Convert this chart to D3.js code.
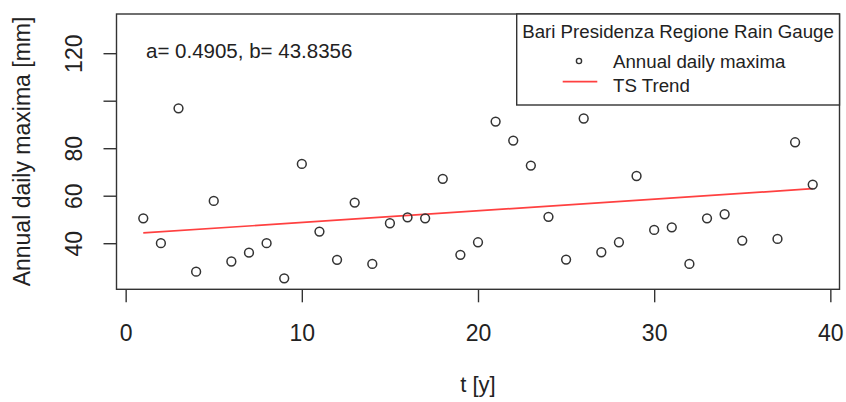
<!DOCTYPE html>
<html>
<head>
<meta charset="utf-8">
<script src="https://cdn.jsdelivr.net/npm/d3@7"></script>
<style>
  body { margin: 0; background: #fff; }
  svg { font-family: "Liberation Sans", Arial, sans-serif; }
</style>
</head>
<body>
<script>
var width = 846,
  height = 402;

// data
var years = [1,2,3,4,5,6,7,8,9,10,11,12,13,14,15,16,17,18,19,20,
  21,22,23,24,25,26,27,28,29,30,31,32,33,34,35,37,38,39];
var maxima = [50.5,40.0,96.8,28.0,57.8,32.3,36.0,40.0,25.2,73.4,44.9,33.0,57.1,31.3,48.4,50.9,50.5,67.1,35.1,40.4,
  91.2,83.2,72.7,51.1,33.1,92.5,36.2,40.4,68.3,45.6,46.7,31.3,50.5,52.2,41.1,41.8,82.5,64.7];
var trendA = 0.4905,
  trendB = 43.8356;
var trendT = [1, 39];
var xTicks = [0, 10, 20, 30, 40];
var yTicks = [40, 60, 80, 100, 120];
var yLabels = [40, 60, 80, 120];

var svg = d3.select("body").append("svg")
  .attr("width", width)
  .attr("height", height);

var x = d3.scaleLinear()
  .domain([-0.52, 40.52])
  .range([116.5, 839.5]);

var y = d3.scaleLinear()
  .domain([20.6, 136.5])
  .range([289.3, 14]);

var ink = "#222";
var red = "#ff4040";

// axes
var xAxis = svg.append("g")
  .attr("transform", "translate(0,289.3)")
  .call(d3.axisBottom(x).tickValues(xTicks).tickSize(13).tickSizeOuter(0));
xAxis.select(".domain").remove();
xAxis.selectAll("line").attr("stroke", "#333").attr("stroke-width", 1.4);
xAxis.selectAll("text")
  .attr("y", 51.5)
  .attr("dy", 0)
  .attr("font-size", 23)
  .attr("fill", ink);

var yAxis = svg.append("g")
  .attr("transform", "translate(116.5,0)")
  .call(d3.axisLeft(y).tickValues(yTicks).tickSize(13).tickSizeOuter(0)
    .tickFormat(function(d) { return yLabels.indexOf(d) >= 0 ? d : ""; }));
yAxis.select(".domain").remove();
yAxis.selectAll("line").attr("stroke", "#333").attr("stroke-width", 1.4);
yAxis.selectAll("text")
  .attr("x", 0)
  .attr("dy", 0)
  .attr("text-anchor", "middle")
  .attr("transform", "translate(-35,0) rotate(-90)")
  .attr("font-size", 23)
  .attr("fill", ink);

// plot box
svg.append("rect")
  .attr("x", 116.5)
  .attr("y", 14)
  .attr("width", 839.5 - 116.5)
  .attr("height", 289.3 - 14)
  .attr("fill", "none")
  .attr("stroke", "#333")
  .attr("stroke-width", 1.4);

// axis titles
svg.append("text")
  .attr("x", 478)
  .attr("y", 392)
  .attr("text-anchor", "middle")
  .attr("font-size", 22)
  .attr("fill", ink)
  .text("t [y]");

svg.append("text")
  .attr("text-anchor", "middle")
  .attr("transform", "translate(29.5,151.5) rotate(-90)")
  .attr("font-size", 23)
  .attr("fill", ink)
  .text("Annual daily maxima [mm]");

// trend line
svg.append("line")
  .attr("x1", x(trendT[0]))
  .attr("y1", y(trendB + trendA * trendT[0]))
  .attr("x2", x(trendT[1]))
  .attr("y2", y(trendB + trendA * trendT[1]))
  .attr("stroke", red)
  .attr("stroke-width", 1.7);

// points
svg.append("g")
  .selectAll("circle")
  .data(years)
  .enter()
    .append("circle")
    .attr("cx", function(d) { return x(d); })
    .attr("cy", function(d, i) { return y(maxima[i]); })
    .attr("r", 4.4)
    .attr("fill", "none")
    .attr("stroke", "#333")
    .attr("stroke-width", 1.5);

// annotation
svg.append("text")
  .attr("x", 146)
  .attr("y", 58.3)
  .attr("font-size", 20.5)
  .attr("fill", ink)
  .text("a= " + trendA.toFixed(4) + ", b= " + trendB.toFixed(4));

// legend
var legend = svg.append("g");
legend.append("rect")
  .attr("x", 516.7)
  .attr("y", 14)
  .attr("width", 839.5 - 516.7)
  .attr("height", 105 - 14)
  .attr("fill", "#fff")
  .attr("stroke", "#333")
  .attr("stroke-width", 1.4);
legend.append("text")
  .attr("x", 678)
  .attr("y", 38.3)
  .attr("text-anchor", "middle")
  .attr("font-size", 18.7)
  .attr("fill", ink)
  .text("Bari Presidenza Regione Rain Gauge");
legend.append("circle")
  .attr("cx", 579)
  .attr("cy", 61)
  .attr("r", 2.6)
  .attr("fill", "none")
  .attr("stroke", "#333")
  .attr("stroke-width", 1.4);
legend.append("text")
  .attr("x", 613)
  .attr("y", 68.3)
  .attr("font-size", 18.7)
  .attr("fill", ink)
  .text("Annual daily maxima");
legend.append("line")
  .attr("x1", 562.7)
  .attr("x2", 597.3)
  .attr("y1", 81.7)
  .attr("y2", 81.7)
  .attr("stroke", red)
  .attr("stroke-width", 1.7);
legend.append("text")
  .attr("x", 613)
  .attr("y", 91.7)
  .attr("font-size", 18.7)
  .attr("fill", ink)
  .text("TS Trend");
</script>
</body>
</html>
